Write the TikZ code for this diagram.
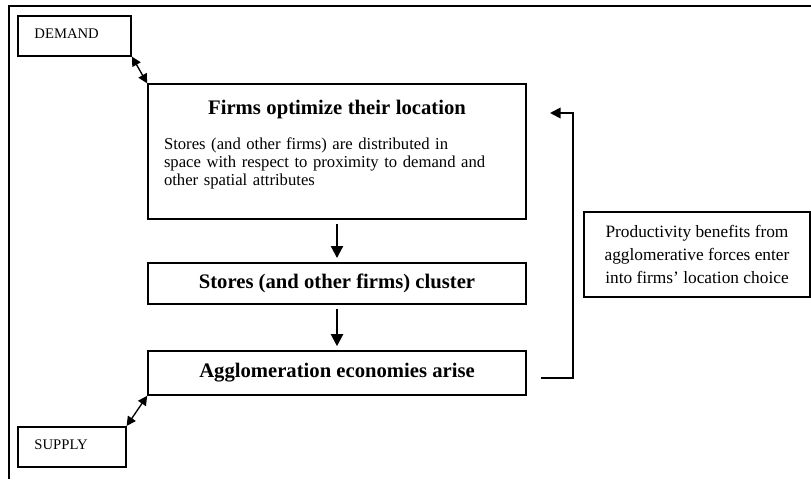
\documentclass[tikz,border=0pt]{standalone}
\usepackage{fontspec}
\setmainfont{Liberation Serif}
\usetikzlibrary{arrows.meta, positioning}

\begin{document}
\begin{tikzpicture}[
  x=0.75pt, y=-0.75pt,
  every node/.style={font=\fontsize{12.5}{13.3}\selectfont},
  box/.style={
    draw, line width=1.2pt, minimum width=283.5pt,
    inner sep=0pt, align=center
  },
  side/.style={
    draw, line width=1.2pt, minimum height=30pt,
    inner xsep=12.5pt, inner ysep=0pt, align=left,
    font=\fontsize{11}{12}\selectfont
  },
  note/.style={
    draw, line width=1.2pt, minimum width=169.5pt, minimum height=64pt,
    inner sep=0pt, align=center, font=\fontsize{13}{17}\selectfont
  },
  title/.style={font=\fontsize{15.5}{17}\selectfont\bfseries},
  arrow/.style={-{Triangle[length=9pt, width=9pt]}, line width=1.6pt,
    shorten <=3pt, shorten >=3pt},
  both/.style={{Triangle[length=7pt, width=7pt]}-{Triangle[length=7pt, width=7pt]},
    line width=1pt},
  back/.style={-{Triangle[length=8pt, width=8pt]}, line width=1.3pt}
]
  \useasboundingbox (0,0) rectangle (811,479);

  % cornice
  \draw[line width=1.5pt] (9,479) -- (9,6) -- (811,6);

  % colonna centrale
  \node[box, minimum height=101pt, text width=259.5pt, inner xsep=12pt] (firms) at (337,151.5) {%
    {\centering\fontsize{15.5}{17}\selectfont\bfseries Firms optimize their location\par}
    \vspace{13pt}\raggedright
    Stores (and other firms) are distributed in\\
    space with respect to proximity to demand and\\
    other spatial attributes\\\mbox{}};
  \node[box, title, minimum height=31pt] (cluster) at (337,283.5) {Stores (and other firms) cluster};
  \node[box, title, minimum height=33pt] (agglo) at (337,373) {Agglomeration economies arise};

  % domanda e offerta
  \node[side, anchor=north west, text width=60pt] (demand) at (17,15) {DEMAND\\[-9pt]\mbox{}};
  \node[side, anchor=north west, text width=56pt] (supply) at (17,426) {SUPPLY\\[-9pt]\mbox{}};

  % nota a destra
  \node[note] (benefit) at (697,254.5) {Productivity benefits from\\
    agglomerative forces enter\\ into firms’ location choice};

  % frecce verticali
  \draw[arrow] (firms) -- (cluster);
  \draw[arrow] (cluster) -- (agglo);

  % frecce doppie
  \draw[both] (demand.south east) -- (firms.north west);
  \draw[both] (supply.north east) -- (agglo.south west);

  % ritorno
  \coordinate (loopin) at (541,378);
  \coordinate (loopout) at (550,113);
  \draw[back] (loopin) -- (573,378) |- (loopout);

\end{tikzpicture}
\end{document}
